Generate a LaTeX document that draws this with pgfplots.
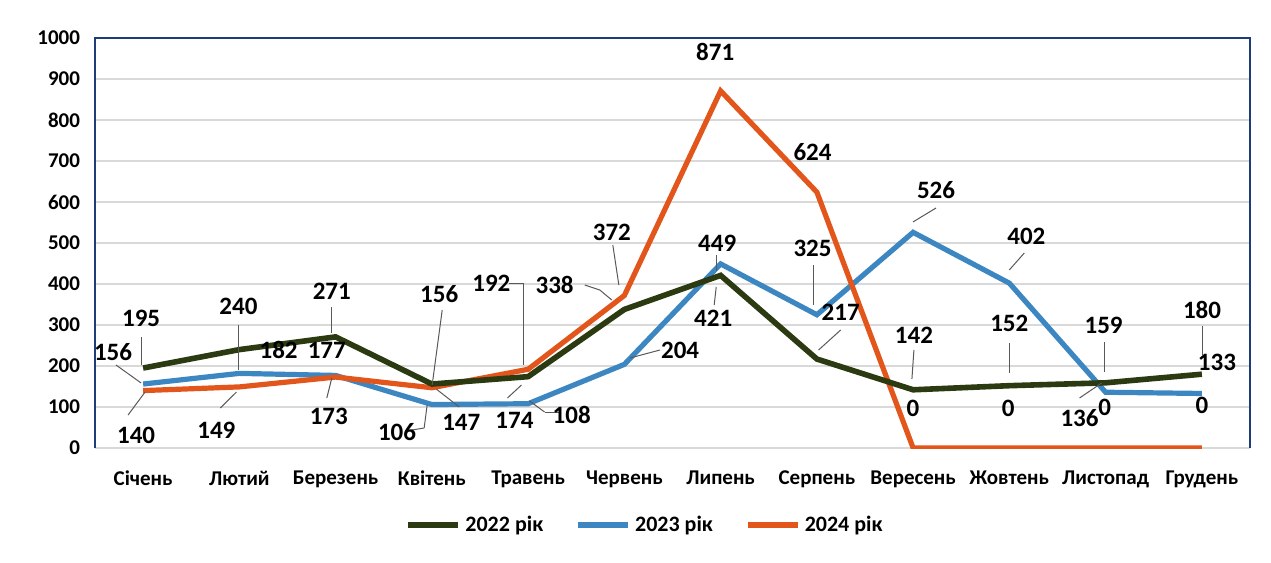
\documentclass[border=0pt]{standalone}
\usepackage{pgfplots}
\pgfplotsset{compat=1.18}
\usepackage{fontspec}
\setmainfont{Carlito}

\definecolor{c22}{HTML}{2B3A10}
\definecolor{c23}{HTML}{3C87C2}
\definecolor{c24}{HTML}{E2561C}
\definecolor{frame}{HTML}{1F3C78}

% reference pixels -> axis coordinates
\newcommand\px[1]{{(#1-145)/95.9}}
\newcommand\py[1]{{(448-#1)/0.41}}
\newcommand\lab[3]{\node[font=\fontsize{12.5}{14}\selectfont\bfseries] at (axis cs:\px{#1},\py{#2}) {#3};}
\newcommand\ld[4]{\draw[gray!70!black, line width=0.5pt] (axis cs:\px{#1},\py{#2}) -- (axis cs:\px{#3},\py{#4});}

\begin{document}
\begin{tikzpicture}
\begin{axis}[
  at={(0,0)}, anchor=south west,
  scale only axis, width=577.5pt, height=205pt,
  xmin=-0.5, xmax=11.5, ymin=0, ymax=1000,
  ytick={0,100,...,1000},
  xtick={0,...,11},
  xticklabels={Січень,Лютий,Березень,Квітень,Травень,Червень,Липень,Серпень,Вересень,Жовтень,Листопад,Грудень},
  tick style={draw=none},
  axis line style={draw=none},
  ymajorgrids, grid style={gray!30, line width=0.6pt},
  tick label style={font=\fontsize{10.5}{13}\selectfont\bfseries},
  /pgf/number format/assume math mode=true,
  /pgf/number format/1000 sep={},
  xticklabel style={yshift=-8pt},
  yticklabel style={xshift=-4pt},
  legend columns=3,
  legend style={at={(0.477,-0.188)}, anchor=center, draw=none, fill=none,
    font=\fontsize{11}{13}\selectfont\bfseries,
    /tikz/every even column/.append style={column sep=14pt}},
  legend image code/.code={\draw[#1, line width=3pt] (0pt,0pt) -- (25pt,0pt);},
]
\addplot[c23, line width=2.6pt, forget plot] coordinates {
  (0,156) (1,182) (2,177) (3,106) (4,108) (5,204)
  (6,449) (7,325) (8,526) (9,402) (10,136) (11,133)};
\addplot[c24, line width=2.6pt, forget plot] coordinates {
  (0,140) (1,149) (2,173) (3,147) (4,192) (5,372)
  (6,871) (7,624) (8,0) (9,0) (10,0) (11,0)};
\addplot[c22, line width=2.8pt, forget plot] coordinates {
  (0,195) (1,240) (2,271) (3,156) (4,174) (5,338)
  (6,421) (7,217) (8,142) (9,152) (10,159) (11,180)};
\addlegendimage{c22}\addlegendentry{2022 рік}
\addlegendimage{c23}\addlegendentry{2023 рік}
\addlegendimage{c24}\addlegendentry{2024 рік}

% leader lines
\ld{143}{337}{143}{365}
\ld{118}{365}{143}{383}
\ld{130}{415}{147}{392}
\ld{240}{325}{240}{370}
\ld{222}{408}{238}{392}
\ld{333}{307}{333}{333}
\ld{328}{398}{333}{378}
\ld{443}{310}{433}{385}
\ld{413}{430}{425}{428}
\ld{425}{428}{428}{405}
\ld{460}{407}{437}{389}
\ld{510}{283}{524}{283}
\ld{524}{283}{524}{365}
\ld{508}{398}{522}{385}
\ld{560}{412}{545}{412}
\ld{545}{412}{530}{401}
\ld{585}{285}{600}{290}
\ld{600}{290}{612}{300}
\ld{613}{245}{619}{285}
\ld{660}{350}{630}{358}
\ld{716}{255}{716}{271}
\ld{714}{305}{716}{287}
\ld{813}{265}{813}{305}
\ld{840}{330}{818}{350}
\ld{935}{208}{912}{222}
\ld{913}{350}{911}{379}
\ld{1023}{253}{1008}{270}
\ld{1008}{343}{1008}{373}
\ld{1103}{342}{1103}{372}
\ld{1200}{326}{1200}{355}
\ld{1078}{398}{1100}{383}

% data labels
\lab{143}{318}{195}
\lab{240}{306}{240}
\lab{333}{291}{271}
\lab{440}{294}{156}
\lab{492}{283}{192}
\lab{555}{285}{338}
\lab{612}{232}{372}
\lab{713}{318}{421}
\lab{717}{243}{449}
\lab{715}{52}{871}
\lab{812}{152}{624}
\lab{812}{248}{325}
\lab{840}{312}{217}
\lab{935}{190}{526}
\lab{913}{335}{142}
\lab{1025}{236}{402}
\lab{1008}{323}{152}
\lab{1102}{325}{159}
\lab{1200}{310}{180}
\lab{1215}{362}{133}
\lab{1078}{418}{136}
\lab{912}{408}{0}
\lab{1007}{408}{0}
\lab{1103}{407}{0}
\lab{1200}{405}{0}
\lab{115}{352}{156}
\lab{138}{435}{140}
\lab{280}{350}{182}
\lab{328}{350}{177}
\lab{218}{430}{149}
\lab{330}{416}{173}
\lab{398}{432}{106}
\lab{462}{422}{147}
\lab{515}{420}{174}
\lab{572}{415}{108}
\lab{680}{350}{204}
\end{axis}
\draw[frame, line width=1pt] (0,0) -- (0,205pt) -- (577.5pt,205pt) -- (577.5pt,0);
\path[use as bounding box] (-47.5pt,-57.5pt) rectangle (588pt,224pt);
\end{tikzpicture}
\end{document}
